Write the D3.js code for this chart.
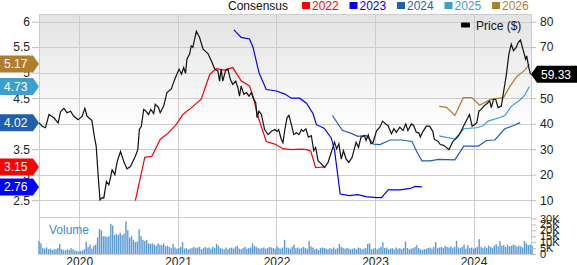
<!DOCTYPE html>
<html>
<head>
<meta charset="utf-8">
<script src="https://cdn.jsdelivr.net/npm/d3@7"></script>
<style>
body { margin: 0; background: #fff; }
svg { display: block; font-family: "Liberation Sans", Arial, sans-serif; }
</style>
</head>
<body>
<div id="chart"></div>
<script>
// price in $ (right axis)
var priceData = [
  ["2019-08-05", 40.3], ["2019-08-17", 39.0], ["2019-08-29", 38.4], ["2019-09-11", 43.6], ["2019-09-29", 42.3],
  ["2019-10-15", 40.3], ["2019-10-24", 44.7], ["2019-11-05", 46.0], ["2019-11-17", 44.3], ["2019-11-30", 44.9],
  ["2019-12-12", 42.9], ["2019-12-28", 41.5], ["2020-01-12", 42.9], ["2020-01-22", 46.0], ["2020-01-30", 42.9],
  ["2020-02-17", 41.2], ["2020-02-27", 34.4], ["2020-03-04", 31.1], ["2020-03-11", 20.0], ["2020-03-18", 10.1],
  ["2020-03-26", 11.0], ["2020-04-01", 10.8], ["2020-04-11", 17.3], ["2020-04-20", 16.0], ["2020-05-02", 21.9],
  ["2020-05-12", 20.0], ["2020-05-21", 25.2], ["2020-06-02", 29.1], ["2020-06-14", 25.2], ["2020-06-26", 22.3],
  ["2020-07-09", 23.2], ["2020-07-27", 27.2], ["2020-08-05", 29.8], ["2020-08-11", 37.7], ["2020-08-18", 39.0],
  ["2020-08-27", 45.6], ["2020-09-04", 44.9], ["2020-09-14", 43.6], ["2020-09-22", 45.6], ["2020-10-03", 44.0],
  ["2020-10-09", 47.6], ["2020-10-21", 46.3], ["2020-10-27", 44.3], ["2020-11-09", 46.9], ["2020-11-21", 52.2],
  ["2020-12-07", 53.5], ["2020-12-13", 55.4], ["2020-12-25", 58.7], ["2021-01-05", 61.4], ["2021-01-14", 59.4],
  ["2021-01-22", 62.0], ["2021-01-29", 59.7], ["2021-02-03", 65.3], ["2021-02-13", 67.3], ["2021-02-19", 70.5],
  ["2021-02-25", 69.9], ["2021-03-10", 76.2], ["2021-03-22", 73.8], ["2021-04-04", 69.2], ["2021-04-22", 67.5],
  ["2021-05-05", 64.6], ["2021-05-17", 61.4], ["2021-05-29", 60.7], ["2021-06-04", 56.7], ["2021-06-10", 61.4],
  ["2021-06-16", 56.7], ["2021-06-26", 60.7], ["2021-07-05", 61.4], ["2021-07-14", 57.4], ["2021-07-23", 55.4],
  ["2021-08-03", 56.7], ["2021-08-11", 54.1], ["2021-08-17", 50.8], ["2021-08-23", 54.8], ["2021-09-02", 51.5],
  ["2021-09-12", 52.2], ["2021-09-21", 50.8], ["2021-09-30", 52.2], ["2021-10-06", 50.2], ["2021-10-16", 48.2],
  ["2021-10-21", 42.3], ["2021-10-28", 44.9], ["2021-11-06", 43.6], ["2021-11-18", 37.7], ["2021-12-01", 35.7],
  ["2021-12-13", 37.0], ["2021-12-26", 37.7], ["2022-01-03", 37.0], ["2022-01-09", 37.7], ["2022-01-19", 33.8],
  ["2022-01-25", 32.5], ["2022-02-01", 37.7], ["2022-02-09", 42.3], ["2022-02-16", 43.3], ["2022-02-25", 39.7],
  ["2022-03-06", 35.7], ["2022-03-16", 36.4], ["2022-03-25", 35.7], ["2022-04-04", 37.7], ["2022-04-10", 37.0],
  ["2022-04-20", 38.0], ["2022-04-29", 34.7], ["2022-05-10", 35.3], ["2022-05-19", 29.4], ["2022-05-26", 30.7],
  ["2022-06-04", 25.5], ["2022-06-16", 24.2], ["2022-06-28", 22.8], ["2022-07-11", 24.8], ["2022-07-23", 28.8],
  ["2022-08-04", 32.7], ["2022-08-12", 30.1], ["2022-08-20", 32.1], ["2022-08-29", 26.1], ["2022-09-06", 29.4],
  ["2022-09-16", 26.1], ["2022-09-26", 24.8], ["2022-10-08", 26.8], ["2022-10-23", 32.7], ["2022-11-01", 30.7],
  ["2022-11-10", 34.7], ["2022-11-23", 35.3], ["2022-11-29", 33.4], ["2022-12-07", 35.6], ["2022-12-17", 32.1],
  ["2022-12-25", 32.7], ["2023-01-07", 37.3], ["2023-01-19", 38.6], ["2023-01-29", 41.0], ["2023-02-10", 39.9],
  ["2023-02-18", 39.3], ["2023-03-03", 36.0], ["2023-03-12", 38.0], ["2023-03-21", 36.6], ["2023-04-03", 38.6],
  ["2023-04-15", 37.3], ["2023-04-25", 39.9], ["2023-05-03", 37.3], ["2023-05-16", 39.9], ["2023-05-24", 39.3],
  ["2023-06-03", 36.6], ["2023-06-13", 36.3], ["2023-06-18", 34.7], ["2023-06-27", 36.8], ["2023-07-10", 39.0],
  ["2023-07-22", 39.0], ["2023-08-03", 37.0], ["2023-08-09", 33.8], ["2023-08-22", 33.1], ["2023-08-31", 31.8],
  ["2023-09-12", 31.5], ["2023-09-22", 30.7], ["2023-10-02", 29.8], ["2023-10-11", 31.8], ["2023-10-17", 33.1],
  ["2023-10-29", 34.2], ["2023-11-08", 35.5], ["2023-11-16", 37.0], ["2023-11-28", 39.7], ["2023-12-11", 42.3],
  ["2023-12-17", 43.6], ["2023-12-27", 39.0], ["2024-01-05", 39.7], ["2024-01-13", 40.3], ["2024-01-21", 44.9],
  ["2024-01-29", 45.6], ["2024-02-08", 46.9], ["2024-02-17", 47.6], ["2024-03-01", 48.9], ["2024-03-07", 46.3],
  ["2024-03-15", 49.5], ["2024-03-23", 49.5], ["2024-04-01", 46.3], ["2024-04-13", 46.9], ["2024-04-22", 52.8],
  ["2024-05-02", 59.4], ["2024-05-11", 67.3], ["2024-05-20", 71.2], ["2024-05-28", 68.6], ["2024-06-07", 69.9],
  ["2024-06-15", 71.9], ["2024-06-23", 72.8], ["2024-07-02", 69.2], ["2024-07-12", 65.3], ["2024-07-16", 66.6],
  ["2024-07-24", 62.0], ["2024-07-30", 59.33]
];

// consensus EPS estimates (left axis)
var eps2022 = [
  ["2020-07-27", 2.49], ["2020-08-31", 3.34], ["2020-09-26", 3.36], ["2020-10-27", 3.69], ["2020-11-26", 3.82],
  ["2020-12-25", 3.98], ["2021-01-19", 4.18], ["2021-02-19", 4.31], ["2021-03-28", 4.48], ["2021-04-29", 4.97],
  ["2021-05-23", 5.08], ["2021-06-22", 5.05], ["2021-07-23", 5.10], ["2021-08-23", 4.84], ["2021-09-23", 4.74],
  ["2021-10-06", 4.54], ["2021-10-24", 4.15], ["2021-11-24", 3.65], ["2021-12-26", 3.60], ["2022-01-25", 3.51],
  ["2022-02-25", 3.49], ["2022-04-03", 3.50], ["2022-04-22", 3.49], ["2022-05-08", 3.46], ["2022-05-26", 3.14],
  ["2022-06-28", 3.15]
];
var eps2023 = [
  ["2021-07-27", 5.84], ["2021-08-23", 5.69], ["2021-09-23", 5.66], ["2021-10-06", 5.50], ["2021-10-28", 5.00],
  ["2021-11-24", 4.67], ["2022-01-01", 4.64], ["2022-02-01", 4.58], ["2022-02-25", 4.50], ["2022-03-28", 4.50],
  ["2022-04-22", 4.40], ["2022-05-16", 4.20], ["2022-05-29", 3.98], ["2022-06-26", 3.91], ["2022-07-23", 3.72],
  ["2022-08-04", 3.48], ["2022-08-25", 2.62], ["2022-09-28", 2.59], ["2022-10-29", 2.61], ["2022-11-29", 2.57],
  ["2023-01-08", 2.55], ["2023-01-25", 2.55], ["2023-02-19", 2.70], ["2023-04-03", 2.70], ["2023-05-11", 2.73],
  ["2023-05-30", 2.77], ["2023-06-24", 2.76]
];
var eps2024 = [
  ["2022-07-27", 4.16], ["2022-09-02", 3.87], ["2022-10-10", 3.80], ["2022-10-29", 3.75], ["2022-11-29", 3.77],
  ["2022-12-27", 3.60], ["2023-01-19", 3.59], ["2023-02-26", 3.68], ["2023-04-10", 3.68], ["2023-05-18", 3.65],
  ["2023-06-04", 3.46], ["2023-06-24", 3.27], ["2023-07-24", 3.27], ["2023-08-24", 3.30], ["2023-10-24", 3.29],
  ["2023-11-26", 3.56], ["2024-01-19", 3.56], ["2024-02-18", 3.67], ["2024-03-20", 3.68], ["2024-04-26", 3.90],
  ["2024-05-26", 3.96], ["2024-06-22", 4.02]
];
var eps2025 = [
  ["2023-08-27", 3.76], ["2023-09-23", 3.73], ["2023-10-24", 3.70], ["2023-11-26", 3.90], ["2024-01-12", 3.92],
  ["2024-02-06", 3.96], ["2024-02-24", 4.05], ["2024-04-08", 4.12], ["2024-04-26", 4.16], ["2024-05-20", 4.34],
  ["2024-06-20", 4.46], ["2024-07-09", 4.56], ["2024-07-26", 4.73]
];
var eps2026 = [
  ["2023-08-27", 4.34], ["2023-09-23", 4.32], ["2023-10-24", 4.16], ["2023-11-24", 4.51], ["2023-12-25", 4.51],
  ["2024-01-24", 4.36], ["2024-03-02", 4.47], ["2024-04-21", 4.51], ["2024-05-15", 4.73], ["2024-06-09", 4.92],
  ["2024-07-09", 5.05], ["2024-07-26", 5.17]
];

var seriesNames = ["2022", "2023", "2024", "2025", "2026"];
var seriesColors = ["#ff0000", "#0000ff", "#1f5fae", "#3aa0d0", "#b07d2f"];
var seriesData = [eps2022, eps2023, eps2024, eps2025, eps2026];

// weekly volume in thousands, starting at volumeStart
var volumeStart = "2019-08-05";
var volumeK = [
  11, 9, 5, 4.5, 5.5, 4, 4.5, 3.5, 4, 4,
  5, 8.5, 4, 3.5, 3, 4, 3.5, 5, 4, 3,
  2.5, 2, 2.5, 3, 4, 10.5, 6, 8, 4.5, 7,
  8, 14, 21, 20, 15, 15, 14.5, 15, 25.5, 24,
  16, 17, 16, 18, 16, 17, 27.5, 20, 14, 15,
  12, 10, 10.5, 21, 15, 12, 11, 12, 9, 8.5,
  9, 8, 7, 9, 8, 7.5, 9, 6.5, 7, 6,
  5, 8.5, 5.5, 4.5, 5, 6, 10, 4.5, 5, 4,
  4.5, 5, 6, 5, 5.5, 6, 4, 5, 6, 5,
  5.5, 4.5, 6, 5, 8.5, 7, 5, 4.5, 4, 5.5,
  4, 5, 5.5, 4.5, 6, 7, 4.5, 4, 5, 6,
  4.5, 5, 5.5, 9, 7, 6, 5, 4.5, 5, 5.5,
  4.5, 5, 6, 5.5, 5, 4.5, 6.5, 5, 4.5, 5.5,
  12, 5.5, 5, 4.5, 6, 8, 5, 5.5, 4.5, 5, 6, 5,
  4.5, 11, 6.5, 5.5, 4, 4.5, 3.5, 5, 5.5, 5,
  4.5, 4, 5, 4.5, 5.5, 4, 5, 8.5, 6, 5,
  4.5, 5, 4.5, 4, 4.5, 5, 4, 5.5, 5, 4,
  4.5, 5, 8.5, 9, 4, 4.5, 5, 4, 5, 6,
  10, 5, 5.5, 4, 4.5, 5, 4, 5.5, 4.5, 5,
  4, 5, 10.5, 5, 4, 4.5, 5, 6, 7.5, 5,
  4, 3.5, 4, 4.5, 5, 5.5, 4.5, 6, 10, 5,
  5.5, 6, 5, 7, 6, 5.5, 6.5, 5, 6, 11,
  5.5, 5, 6, 8, 4.5, 7.5, 5, 5.5, 4.5, 5,
  6, 12.5, 6, 5, 6.5, 5, 7, 6, 5, 7,
  8.5, 6.5, 11, 7, 7.5, 6, 8, 6.5, 7, 8,
  7.5, 6, 7, 6.5, 5.5, 11, 9, 7.5, 8, 7
];

var epsTicks = [2.5, 3, 3.5, 4, 4.5, 5, 5.5, 6];
var priceTicks = [10, 20, 30, 40, 50, 60, 70, 80];
var volumeTicks = [0, 5, 10, 15, 20, 25, 30];
var yearTicks = ["2020-01-01", "2021-01-01", "2022-01-01", "2023-01-01", "2024-01-01"];

var W = 577, H = 265;
var plotLeft = 39, plotRight = 531, plotTop = 14, priceBottom = 217, volBottom = 254;
var parse = d3.timeParse("%Y-%m-%d");
var font = "12px";

var svg = d3.select("#chart").append("svg").attr("width", W).attr("height", H);

var x = d3.scaleTime().domain([parse("2019-08-05"), parse("2024-08-01")]).range([plotLeft, plotRight]);
var yL = d3.scaleLinear().domain([2.17, 6.15]).range([priceBottom, plotTop]);
var yR = d3.scaleLinear().domain([3.4, 83]).range([priceBottom, plotTop]);
var yV = d3.scaleLinear().domain([0, 30]).range([volBottom, 218.5]);

var defs = svg.append("defs");
var grad = defs.append("linearGradient").attr("id", "bg").attr("x1", 0).attr("y1", 0).attr("x2", 0).attr("y2", 1);
grad.append("stop").attr("offset", "0%").attr("stop-color", "#e3e3e3");
grad.append("stop").attr("offset", "58%").attr("stop-color", "#ffffff");
grad.append("stop").attr("offset", "100%").attr("stop-color", "#ffffff");
defs.append("clipPath").attr("id", "plotClip").append("rect")
  .attr("x", plotLeft).attr("y", plotTop).attr("width", plotRight - plotLeft).attr("height", priceBottom - plotTop);

svg.append("rect").attr("x", plotLeft).attr("y", plotTop).attr("width", plotRight - plotLeft).attr("height", priceBottom - plotTop)
  .attr("fill", "url(#bg)");

// grid
var grid = svg.append("g").attr("stroke", "#cccccc").attr("stroke-width", 1).attr("shape-rendering", "crispEdges");
grid.selectAll("line.h").data(epsTicks).enter().append("line")
  .attr("x1", plotLeft).attr("x2", plotRight)
  .attr("y1", function(d) { return Math.round(yL(d)) + 0.5; }).attr("y2", function(d) { return Math.round(yL(d)) + 0.5; });
grid.selectAll("line.v").data(yearTicks).enter().append("line")
  .attr("y1", plotTop).attr("y2", volBottom)
  .attr("x1", function(d) { return Math.round(x(parse(d))) + 0.5; }).attr("x2", function(d) { return Math.round(x(parse(d))) + 0.5; });
grid.append("rect").attr("x", plotLeft + 0.5).attr("y", plotTop + 0.5).attr("width", plotRight - plotLeft).attr("height", volBottom - plotTop).attr("fill", "none");
grid.append("line").attr("x1", plotLeft).attr("x2", plotRight).attr("y1", priceBottom + 0.5).attr("y2", priceBottom + 0.5);

// volume bars
svg.append("g").selectAll("rect").data(volumeK).enter().append("rect")
  .attr("x", function(d, i) { return x(d3.timeDay.offset(parse(volumeStart), i * 7)) - 0.7; })
  .attr("width", 1.4)
  .attr("y", function(d) { return yV(d); })
  .attr("height", function(d) { return volBottom - yV(d); })
  .attr("fill", "#5b9bd5");

svg.append("text").attr("x", 49).attr("y", 234).attr("font-size", font).attr("fill", "#3b8ed0").text("Volume");

// consensus lines
var lineL = d3.line().x(function(d) { return x(parse(d[0])); }).y(function(d) { return yL(d[1]); });
var plot = svg.append("g").attr("clip-path", "url(#plotClip)");
seriesData.forEach(function(s, i) {
  plot.append("path").datum(s).attr("d", lineL).attr("fill", "none")
    .attr("stroke", seriesColors[i]).attr("stroke-width", 1.2);
});

// price line
var lineR = d3.line().x(function(d) { return x(parse(d[0])); }).y(function(d) { return yR(d[1]); });
plot.append("path").datum(priceData).attr("d", lineR).attr("fill", "none")
  .attr("stroke", "#111").attr("stroke-width", 1.2);

// axes
var axL = svg.append("g").attr("transform", "translate(" + plotLeft + ",0)")
  .call(d3.axisLeft(yL).tickValues(epsTicks).tickSize(7).tickPadding(2).tickFormat(d3.format("")));
var axR = svg.append("g").attr("transform", "translate(" + plotRight + ",0)")
  .call(d3.axisRight(yR).tickValues(priceTicks).tickSize(5).tickPadding(4));
var axV = svg.append("g").attr("transform", "translate(" + plotRight + ",0)")
  .call(d3.axisRight(yV).tickValues(volumeTicks).tickSize(5).tickPadding(4)
    .tickFormat(function(d) { return d === 0 ? "0" : d + "K"; }));
var axX = svg.append("g").attr("transform", "translate(0," + volBottom + ")")
  .call(d3.axisBottom(x).tickValues(yearTicks.map(parse)).tickSize(0).tickPadding(3).tickFormat(d3.timeFormat("%Y")));
[axL, axR, axV, axX].forEach(function(a) {
  a.select(".domain").remove();
  a.selectAll("line").attr("stroke", "#bbbbbb");
  a.selectAll("text").attr("font-size", font).attr("font-family", "Liberation Sans, Arial, sans-serif").attr("fill", "#222");
});
axV.selectAll("text").attr("font-size", "11px");

// left flags for latest consensus values
var flags = svg.append("g");
seriesData.forEach(function(s, i) {
  var v = s[s.length - 1][1];
  var y = yL(v);
  flags.append("path").attr("d", "M0," + (y - 8.5) + "H33L" + plotLeft + "," + y + "L33," + (y + 8.5) + "H0Z")
    .attr("fill", seriesColors[i]);
  flags.append("text").attr("x", 4).attr("y", y).attr("dy", "0.36em").attr("font-size", font)
    .attr("fill", "#fff").text(d3.format(".2f")(v));
});

// right flag for last price
var lastPrice = priceData[priceData.length - 1][1];
var py = yR(lastPrice);
flags.append("path").attr("d", "M" + plotRight + "," + py + "L537," + (py - 8.5) + "H" + W + "V" + (py + 8.5) + "H537Z").attr("fill", "#000");
flags.append("text").attr("x", 541).attr("y", py).attr("dy", "0.36em").attr("font-size", font)
  .attr("fill", "#fff").text(d3.format(".2f")(lastPrice));

// legend
var legend = svg.append("g").attr("font-size", font);
legend.append("text").attr("x", 228).attr("y", 9.5).attr("fill", "#111").text("Consensus");
seriesNames.forEach(function(name, i) {
  var lx = 302 + i * 47.5;
  legend.append("rect").attr("x", lx).attr("y", 2).attr("width", 8).attr("height", 7).attr("fill", seriesColors[i]);
  legend.append("text").attr("x", lx + 10).attr("y", 9.5).attr("fill", seriesColors[i]).text(name);
});
legend.append("rect").attr("x", 461).attr("y", 22.5).attr("width", 9).attr("height", 5).attr("rx", 1).attr("fill", "#000");
legend.append("text").attr("x", 476).attr("y", 29.5).attr("fill", "#111").text("Price ($)");
</script>
</body>
</html>
